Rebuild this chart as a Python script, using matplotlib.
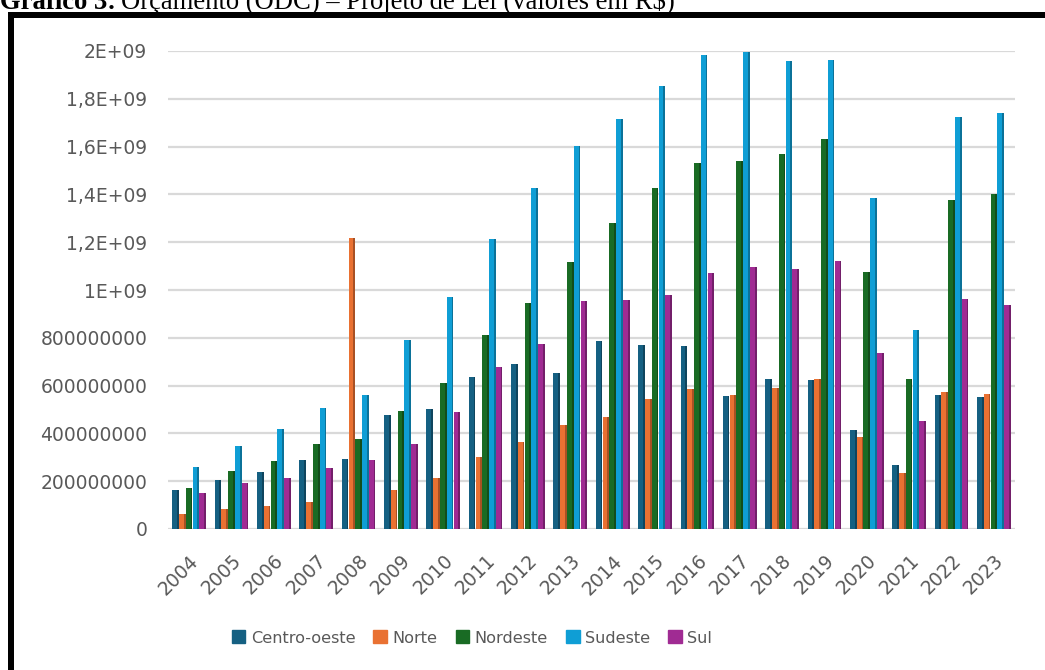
import numpy as np
import matplotlib
matplotlib.use("Agg")
import matplotlib.pyplot as plt
from matplotlib.patches import Rectangle
from matplotlib.ticker import FuncFormatter
from matplotlib.colors import to_rgb

years = [str(y) for y in range(2004, 2024)]
regions = ['Centro-oeste', 'Norte', 'Nordeste', 'Sudeste', 'Sul']
colors = ['#156082', '#E97132', '#196B24', '#0F9ED5', '#A02B93']

# values in millions of R$
centro_oeste = [163, 205, 238, 288, 292, 476, 502, 636, 690, 652, 787, 768, 766, 558, 628, 622, 415, 268, 562, 552]
norte = [63, 84, 96, 113, 1219, 163, 215, 302, 362, 437, 467, 545, 585, 560, 588, 628, 385, 235, 575, 565]
nordeste = [171, 242, 284, 355, 376, 493, 612, 810, 945, 1118, 1282, 1425, 1530, 1540, 1568, 1630, 1075, 628, 1376, 1400]
sudeste = [259, 347, 418, 505, 560, 789, 970, 1212, 1425, 1602, 1714, 1855, 1984, 1994, 1960, 1963, 1387, 834, 1724, 1740]
sul = [150, 192, 213, 255, 288, 355, 490, 678, 775, 956, 958, 978, 1072, 1098, 1086, 1122, 735, 450, 962, 938]

series = [centro_oeste, norte, nordeste, sudeste, sul]

W, H = 1045, 670
fig = plt.figure(figsize=(W / 100, H / 100), dpi=100)
ax = fig.add_axes([168 / W, 1 - 529 / H, (1015 - 168) / W, (529 - 51) / H])

x = np.arange(len(years))
bw = 0.16
for i, (vals, c) in enumerate(zip(series, colors)):
    v = np.array(vals) * 1e6
    pos = x + (i - 2) * bw
    ax.bar(pos, v, width=bw * 0.97, color=c, label=regions[i], zorder=3)
    dark = tuple(np.array(to_rgb(c)) * 0.72)
    ax.bar(pos + bw * 0.485 - bw * 0.13, v, width=bw * 0.26, color=dark, zorder=3)

ax.set_xlim(-0.5, len(years) - 0.5)
ax.set_ylim(0, 2e9)
ax.set_yticks(np.arange(0, 2.01e9, 2e8))


def fmt(v, pos):
    if v < 1e9:
        return '%d' % round(v)
    m = v / 1e9
    s = ('%.1f' % m).rstrip('0').rstrip('.').replace('.', ',')
    return s + 'E+09'


ax.yaxis.set_major_formatter(FuncFormatter(fmt))
ax.set_xticks(x)
ax.set_xticklabels(years, rotation=45, ha='right', va='top', rotation_mode='anchor')
ax.grid(axis='y', color='#D9D9D9', linewidth=1.6, zorder=0)
for s in ax.spines.values():
    s.set_visible(False)
ax.tick_params(length=0, labelsize=13.5, labelcolor='#595959', colors='#595959')
ax.tick_params(axis='y', pad=15)
ax.tick_params(axis='x', pad=16)
for lab in ax.get_xticklabels() + ax.get_yticklabels():
    lab.set_fontfamily('DejaVu Sans')

handles = [Rectangle((0, 0), 1, 1, color=c) for c in colors]
fig.legend(handles, regions, loc='center', bbox_to_anchor=(472 / W, 1 - 638 / H),
           ncol=5, frameon=False, labelcolor='#595959',
           prop={'family': 'DejaVu Sans', 'size': 11.6},
           handlelength=0.85, handleheight=0.85, handletextpad=0.35, columnspacing=1.1)

# border of the chart frame
fig.add_artist(Rectangle((8 / W, 0), 6 / W, 1 - 12 / H, transform=fig.transFigure,
                         color='black', lw=0))
fig.add_artist(Rectangle((8 / W, 1 - 18 / H), 1 - 8 / W, 6 / H, transform=fig.transFigure,
                         color='black', lw=0))

t1 = fig.text(0.0, 1 - 9 / H, 'Gráfico 3:', fontfamily='Liberation Serif', fontweight='bold',
              fontsize=19.2, va='baseline', ha='left')
fig.canvas.draw()
bb = t1.get_window_extent()
fig.text(bb.x1 / W + 5 / W, 1 - 9 / H, 'Orçamento (ODC) – Projeto de Lei (valores em R$)',
         fontfamily='Liberation Serif', fontsize=19.2, va='baseline', ha='left')

fig.savefig('out.png', dpi=100)
